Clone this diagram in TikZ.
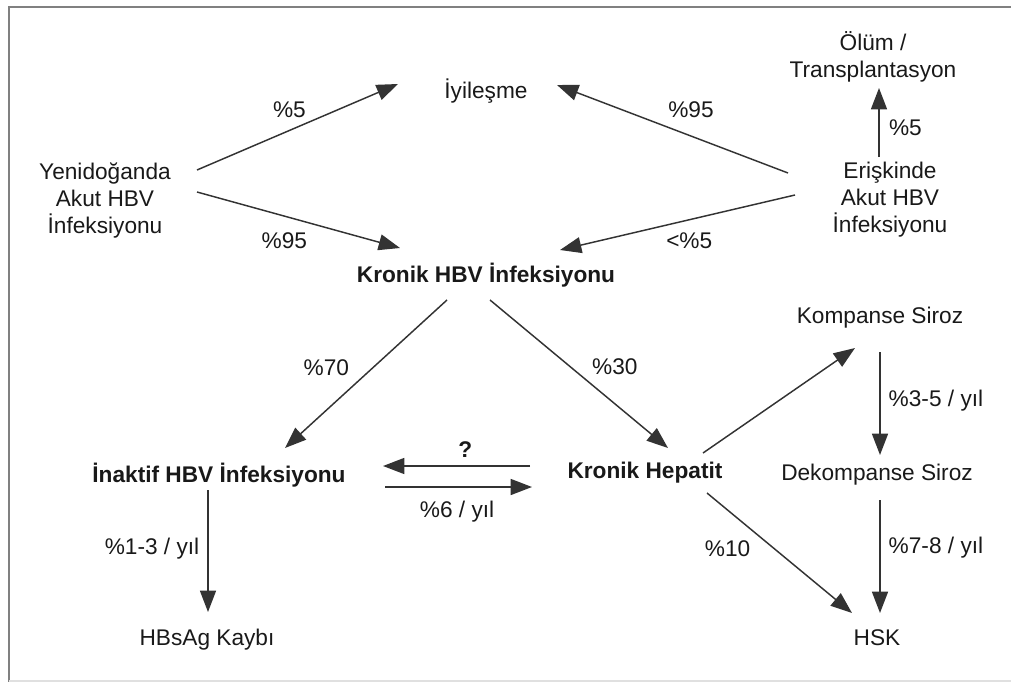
\documentclass[tikz,border=0pt]{standalone}
\usepackage{fontspec}
\setmainfont{Liberation Sans}
\usetikzlibrary{arrows.meta,positioning,calc}

\begin{document}
\begin{tikzpicture}[
  x=0.75pt, y=-0.75pt,
  >={Triangle[length=16pt,width=12pt]},
  N/.style={
    font=\fontsize{17}{20.25}\selectfont,
    align=center, inner sep=0pt, text=black!90
  },
  NB/.style={N, font=\fontsize{17}{20.25}\selectfont\bfseries},
  arr/.style={->, draw=black!80, line width=1.1pt},
  lbl/.style={N, inner sep=0pt},
  frame/.style={draw=black!50, line width=1.6pt}
]
\useasboundingbox (0,0) rectangle (1011,682);

% frame
\draw[frame] (9,682) -- (9,7) -- (1011,7);
\draw[draw=black!12, line width=1pt] (9,681) -- (1011,681);

% nodes
\node[N]  (Iyi)    at (486,91)  {İyileşme};
\node[N]  (Yeni)   at (105,200) {Yenidoğanda\\Akut HBV\\İnfeksiyonu};
\node[N]  (Erisk)  at (890,200) {Erişkinde\\Akut HBV\\İnfeksiyonu};
\node[N]  (Olum)   at (873,57)  {Ölüm /\\Transplantasyon};
\node[NB] (Kronik) at (486,275) {Kronik HBV İnfeksiyonu};
\node[NB] (Inakt)  at (219,475) {İnaktif HBV İnfeksiyonu};
\node[NB] (Hep)    at (645,473) {Kronik Hepatit};
\node[N]  (HBsAg)  at (207,640) {HBsAg Kaybı};
\node[N]  (Komp)   at (880,318) {Kompanse Siroz};
\node[N]  (Dekomp) at (877,475) {Dekompanse Siroz};
\node[N]  (HSK)    at (877,638) {HSK};

% arrows
\draw[arr] ($(Yeni)+(92,-30)$) -- node[lbl, pos=0.46, above=9pt] {\%5} ($(Iyi)+(-88,-7)$);
\draw[arr] ($(Yeni)+(92,-8)$) -- node[lbl, pos=0.43, below=12pt] {\%95} ($(Kronik)+(-86,-27)$);
\draw[arr] ($(Erisk)+(-102,-27)$) -- node[lbl, pos=0.42, above=13pt] {\%95} ($(Iyi)+(71,-6)$);
\draw[arr] ($(Erisk)+(-95,-5)$) -- node[lbl, pos=0.45, below=9pt] {<\%5} ($(Kronik)+(74,-25)$);
\draw[arr] ($(Erisk)+(-11,-43)$) -- node[lbl, pos=0.42, right=7pt] {\%5} ($(Olum)+(6,31)$);

\draw[arr] ($(Kronik)+(-39,25)$) -- node[lbl, pos=0.46, left=17pt] {\%70} ($(Inakt)+(66,-27)$);
\draw[arr] ($(Kronik)+(4,25)$) -- node[lbl, pos=0.45, right=16pt] {\%30} ($(Hep)+(23,-25)$);

\draw[arr] ($(Hep)+(-115,-7)$) -- node[NB, pos=0.44, above=6pt] {?} ($(Inakt)+(164,-9)$);
\draw[arr] ($(Inakt)+(166,12)$) -- node[lbl, pos=0.49, below=10pt] {\%6 / yıl} ($(Hep)+(-113,14)$);
\draw[arr] ($(Inakt)+(-11,15)$) -- node[lbl, pos=0.48, left=6pt] {\%1-3 / yıl} ($(HBsAg)+(1,-28)$);

\draw[arr] ($(Hep)+(58,-20)$) -- ($(Komp)+(-25,30)$);
\draw[arr] ($(Hep)+(62,20)$) -- node[lbl, pos=0.46, left=17pt] {\%10} ($(HSK)+(-25,-25)$);
\draw[arr] ($(Komp)+(0,34)$) -- node[lbl, pos=0.47, right=6pt] {\%3-5 / yıl} ($(Dekomp)+(3,-20)$);
\draw[arr] ($(Dekomp)+(3,25)$) -- node[lbl, pos=0.42, right=6pt] {\%7-8 / yıl} ($(HSK)+(3,-25)$);

\end{tikzpicture}
\end{document}
